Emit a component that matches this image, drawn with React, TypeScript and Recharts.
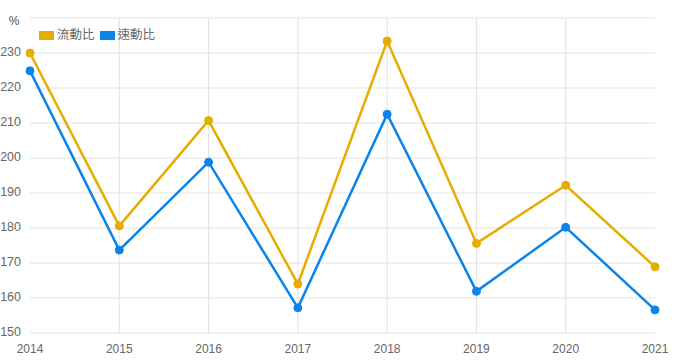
import { CartesianGrid, Line, LineChart, XAxis, YAxis } from 'recharts';

const years = ['2014', '2015', '2016', '2017', '2018', '2019', '2020', '2021'];
const currentRatio = [230.0, 180.6, 210.7, 164.0, 233.4, 175.6, 192.2, 168.9];
const quickRatio = [224.9, 173.7, 198.8, 157.2, 212.5, 161.9, 180.2, 156.6];
const yTicks = [150, 160, 170, 180, 190, 200, 210, 220, 230, 240];

const seriesNames = ['流動比', '速動比'];
const YELLOW = '#e6ad00';
const BLUE = '#0b84e9';
const FONT = '"Liberation Sans", Arial, "Noto Sans CJK TC", sans-serif';

const data = years.map((year, i) => ({
  year,
  current: currentRatio[i],
  quick: quickRatio[i]
}));

function YTick(props: any) {
  const { x, y, payload } = props;
  if (payload.value === 240) {
    return (
      <text x={14} y={y + 4} textAnchor="middle" dominantBaseline="middle" fontSize={12} fill="#555" fontFamily={FONT}>
        %
      </text>
    );
  }
  return (
    <text x={x} y={y} textAnchor="end" dominantBaseline="middle" fontSize={12.5} fill="#666" fontFamily={FONT}>
      {payload.value}
    </text>
  );
}

// inner vertical grid lines only (no lines at the first / last category)
const innerVerticals = ({ offset }: any) => {
  const n = years.length - 1;
  return years.slice(1, -1).map((_, i) => offset.left + (offset.width * (i + 1)) / n);
};

export default function App() {
  return (
    <div style={{ position: 'absolute', left: 0, top: 0, width: 674, height: 364, fontFamily: FONT }}>
      <LineChart width={674} height={364} data={data} margin={{ top: 18, right: 19, bottom: 0, left: 0 }}>
        <CartesianGrid stroke="#e2e2e2" verticalCoordinatesGenerator={innerVerticals} />
        <XAxis
          dataKey="year"
          axisLine={false}
          tickLine={false}
          tickSize={0}
          tickMargin={11}
          height={31}
          interval={0}
          tick={{ fontSize: 12, fill: '#666', fontFamily: FONT }}
        />
        <YAxis
          domain={[150, 240]}
          ticks={yTicks}
          axisLine={false}
          tickLine={false}
          tickSize={0}
          tickMargin={9}
          width={30}
          tick={<YTick />}
        />
        <Line
          dataKey="current"
          stroke={YELLOW}
          strokeWidth={2.5}
          dot={{ r: 4, fill: YELLOW, stroke: YELLOW, strokeWidth: 1 }}
          isAnimationActive={false}
        />
        <Line
          dataKey="quick"
          stroke={BLUE}
          strokeWidth={2.5}
          dot={{ r: 4, fill: BLUE, stroke: BLUE, strokeWidth: 1 }}
          isAnimationActive={false}
        />
      </LineChart>
      <div
        style={{
          position: 'absolute',
          left: 39,
          top: 28,
          display: 'flex',
          alignItems: 'center',
          fontSize: 12.5,
          color: '#666',
          lineHeight: '14px'
        }}
      >
        {seriesNames.map((name, i) => (
          <div key={name} style={{ display: 'flex', alignItems: 'center', marginRight: 5 }}>
            <span
              style={{
                display: 'inline-block',
                width: 15,
                height: 9,
                background: i === 0 ? YELLOW : BLUE,
                marginRight: 3
              }}
            />
            <span>{name}</span>
          </div>
        ))}
      </div>
    </div>
  );
}
